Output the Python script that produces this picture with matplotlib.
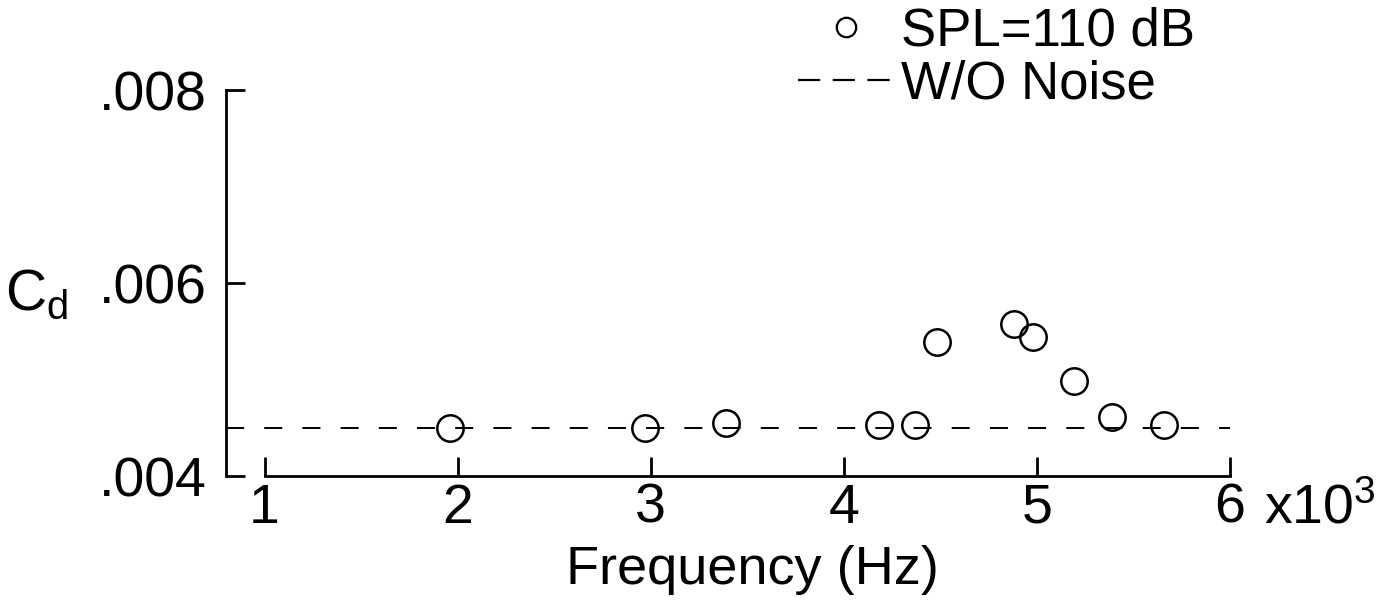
import matplotlib
matplotlib.use("Agg")
import matplotlib.pyplot as plt
from matplotlib.lines import Line2D

plt.rcParams['font.family'] = ['Liberation Sans', 'DejaVu Sans']
plt.rcParams['mathtext.default'] = 'regular'
plt.rcParams['lines.scale_dashes'] = False

# данные (частота в тысячах Гц)
freq = [1.96, 2.97, 3.39, 4.18, 4.37, 4.48, 4.88, 4.98, 5.19, 5.39, 5.66]
cd_noise = [0.00450, 0.00450, 0.00455, 0.00453, 0.00453, 0.00539,
            0.00558, 0.00544, 0.00498, 0.00461, 0.00453]
cd_no_noise = 0.00450

x_ticks = [1, 2, 3, 4, 5, 6]
y_ticks = [0.004, 0.006, 0.008]
y_tick_labels = ['.004', '.006', '.008']

fig = plt.figure(figsize=(13.99, 6.04), dpi=100)
ax = fig.add_axes([0.1615, 0.2119, 0.7177, 0.639])

ax.axhline(cd_no_noise, color='black', lw=1.4, dashes=(13, 14.5))
ax.plot(freq, cd_noise, 'o', ms=19, mfc='none', mec='black', mew=1.8)

ax.set_xlim(0.8, 6.0)
ax.set_ylim(0.004, 0.008)

for s in ['top', 'right']:
    ax.spines[s].set_visible(False)
ax.spines['left'].set_bounds(0.004, 0.008)
ax.spines['bottom'].set_bounds(1, 6)
ax.spines['left'].set_linewidth(2)
ax.spines['bottom'].set_linewidth(2)

ax.set_xticks(x_ticks)
ax.set_xticklabels([str(t) for t in x_ticks])
ax.set_yticks(y_ticks)
ax.set_yticklabels(y_tick_labels)
ax.tick_params(axis='both', direction='in', length=14, width=2, labelsize=40)
ax.tick_params(axis='x', pad=5)
ax.tick_params(axis='y', pad=14)

ax.set_xlabel('Frequency (Hz)', fontsize=39, va='top')
ax.xaxis.set_label_coords(0.524, -0.18)
ax.set_ylabel('C$_d$', fontsize=41, rotation=0, ha='center', va='center')
ax.yaxis.set_label_coords(-0.189, 0.47)

ax.text(1.034, -0.122, 'x10$^3$', transform=ax.transAxes, fontsize=40,
        ha='left', va='baseline')

handles = [
    Line2D([], [], ls='none', marker='o', ms=14, mfc='none', mec='black', mew=1.6),
    Line2D([], [], color='black', lw=1.6, dashes=(16, 9)),
]
fig.legend(handles, ['SPL=110 dB', 'W/O Noise'], loc='upper left',
           bbox_to_anchor=(798 / 1399, 1 - 6 / 604), frameon=False, fontsize=38,
           handlelength=1.8, handletextpad=0.15, borderpad=0, borderaxespad=0,
           labelspacing=0.06)

fig.savefig('out.png', dpi=100)
